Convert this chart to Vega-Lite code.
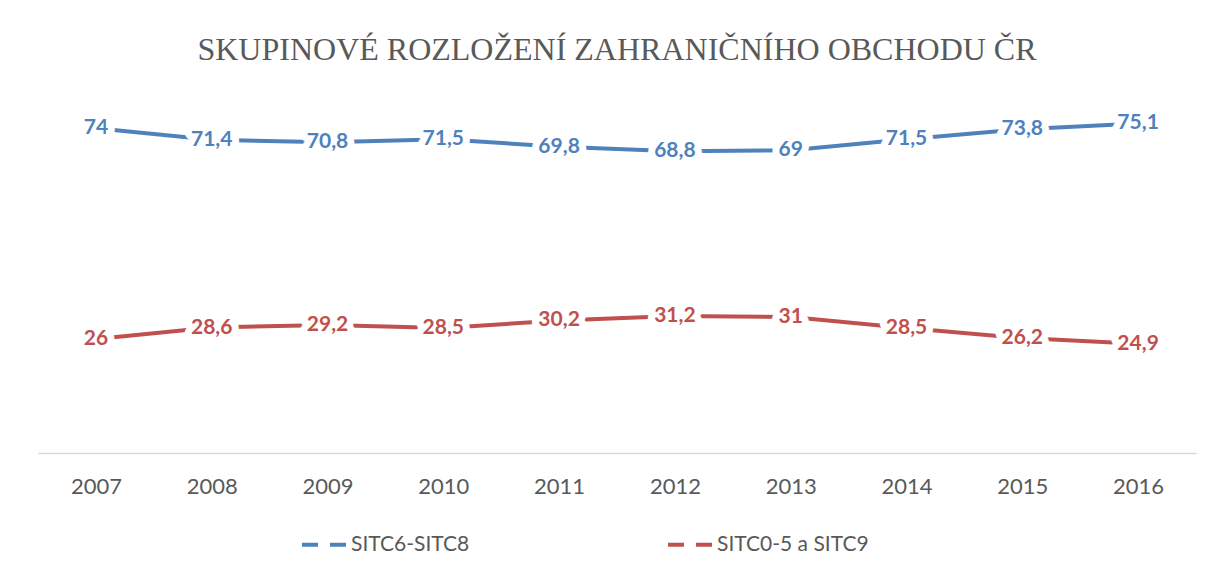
{
  "$schema": "https://vega.github.io/schema/vega-lite/v6.json",
  "width": 1158,
  "height": 351,
  "autosize": {"type": "none"},
  "padding": {"left": 38, "top": 102, "right": 18, "bottom": 122},
  "background": "white",
  "title": {
    "text": "SKUPINOVÉ ROZLOŽENÍ ZAHRANIČNÍHO OBCHODU ČR",
    "font": "Liberation Serif",
    "fontSize": 32,
    "fontWeight": "normal",
    "color": "#595959",
    "anchor": "middle",
    "frame": "group",
    "offset": 35
  },
  "data": {
    "values": [
      {"year": "2007", "series": "SITC6-SITC8", "value": 74},
      {"year": "2008", "series": "SITC6-SITC8", "value": 71.4},
      {"year": "2009", "series": "SITC6-SITC8", "value": 70.8},
      {"year": "2010", "series": "SITC6-SITC8", "value": 71.5},
      {"year": "2011", "series": "SITC6-SITC8", "value": 69.8},
      {"year": "2012", "series": "SITC6-SITC8", "value": 68.8},
      {"year": "2013", "series": "SITC6-SITC8", "value": 69},
      {"year": "2014", "series": "SITC6-SITC8", "value": 71.5},
      {"year": "2015", "series": "SITC6-SITC8", "value": 73.8},
      {"year": "2016", "series": "SITC6-SITC8", "value": 75.1},
      {"year": "2007", "series": "SITC0-5 a SITC9", "value": 26},
      {"year": "2008", "series": "SITC0-5 a SITC9", "value": 28.6},
      {"year": "2009", "series": "SITC0-5 a SITC9", "value": 29.2},
      {"year": "2010", "series": "SITC0-5 a SITC9", "value": 28.5},
      {"year": "2011", "series": "SITC0-5 a SITC9", "value": 30.2},
      {"year": "2012", "series": "SITC0-5 a SITC9", "value": 31.2},
      {"year": "2013", "series": "SITC0-5 a SITC9", "value": 31},
      {"year": "2014", "series": "SITC0-5 a SITC9", "value": 28.5},
      {"year": "2015", "series": "SITC0-5 a SITC9", "value": 26.2},
      {"year": "2016", "series": "SITC0-5 a SITC9", "value": 24.9}
    ]
  },
  "encoding": {
    "x": {
      "field": "year",
      "type": "ordinal",
      "scale": {"type": "point", "padding": 0.5},
      "axis": {
        "title": null,
        "labelAngle": 0,
        "ticks": false,
        "grid": false,
        "domainColor": "#d9d9d9",
        "domainWidth": 1.5,
        "labelFont": "Lato",
        "labelFontSize": 22,
        "labelColor": "#595959",
        "labelPadding": 23
      }
    },
    "y": {
      "field": "value",
      "type": "quantitative",
      "scale": {"domain": [0, 80]},
      "axis": null
    },
    "color": {
      "field": "series",
      "type": "nominal",
      "scale": {
        "domain": ["SITC6-SITC8", "SITC0-5 a SITC9"],
        "range": ["#4F81BD", "#C0504D"]
      },
      "legend": {
        "title": null,
        "orient": "none",
        "direction": "horizontal",
        "legendX": 262,
        "legendY": 418,
        "symbolType": "stroke",
        "symbolSize": 2025,
        "symbolStrokeWidth": 4,
        "symbolDash": [16, 12],
        "labelFont": "Lato",
        "labelFontSize": 21,
        "labelColor": "#595959",
        "labelOffset": 2,
        "columnPadding": 190,
        "labelLimit": 300
      }
    }
  },
  "layer": [
    {
      "mark": {"type": "line", "strokeWidth": 4, "strokeCap": "round"}
    },
    {
      "mark": {
        "type": "text",
        "font": "Lato",
        "fontSize": 21,
        "fontWeight": "bold",
        "stroke": "white",
        "strokeWidth": 14,
        "strokeJoin": "round",
        "fill": "white",
        "baseline": "middle",
        "align": "center"
      },
      "encoding": {
        "text": {"field": "value", "type": "quantitative", "format": "~g"},
        "color": {"value": "white"}
      }
    },
    {
      "mark": {
        "type": "text",
        "font": "Lato",
        "fontSize": 21,
        "fontWeight": "bold",
        "baseline": "middle",
        "align": "center"
      },
      "encoding": {
        "text": {"field": "value", "type": "quantitative", "format": "~g"}
      }
    }
  ],
  "config": {
    "view": {"stroke": null},
    "locale": {
      "number": {
        "decimal": ",",
        "thousands": " ",
        "grouping": [3],
        "currency": ["", " Kč"]
      }
    }
  }
}
